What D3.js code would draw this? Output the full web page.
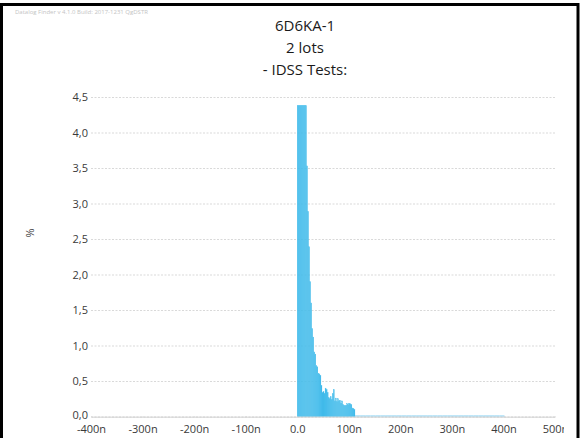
<!DOCTYPE html>
<html>
<head>
<meta charset="utf-8">
<script src="https://cdn.jsdelivr.net/npm/d3@7"></script>
<style>
  body { margin: 0; background: #fff; }
  text { font-family: "Open Sans", sans-serif; }
</style>
</head>
<body>
<div id="viz"></div>
<script>
var svg_width = 582;
var svg_height = 438;

var titleLines = ["6D6KA-1", "2 lots", "- IDSS Tests:"];
var xTicks = [-400, -300, -200, -100, 0, 100, 200, 300, 400, 500];
var xTickLabels = ["-400n", "-300n", "-200n", "-100n", "0.0", "100n", "200n", "300n", "400n", "500n"];
var yTicks = [0, 0.5, 1, 1.5, 2, 2.5, 3, 3.5, 4, 4.5];

// histogram bins, 2n wide, starting at 0n (values in %)
var binWidth = 2;
var binPct = [4.38, 4.38, 4.38, 4.38, 4.38, 4.38, 4.38, 4.38, 4.38, 3.53,
              2.89, 2.39, 1.90, 1.60, 1.24, 1.12, 0.91, 0.88, 0.72, 0.70,
              0.61, 0.60, 0.58, 0.44, 0.34, 0.35, 0.33, 0.40, 0.38, 0.34,
              0.27, 0.25, 0.28, 0.24, 0.32, 0.38, 0.22, 0.26, 0.21, 0.25,
              0.22, 0.23, 0.19, 0.22, 0.17, 0.16, 0.15, 0.16, 0.18, 0.17,
              0.18, 0.18, 0.17, 0.12, 0.11, 0.10];
// sparse tail, 10n wide bins from 112n
var tailStart = 112;
var tailWidth = 10;
var tailPct = [0.015, 0.015, 0.015, 0.015, 0.015, 0.015, 0.015, 0.015, 0.015, 0.015,
               0.015, 0.015, 0.015, 0.015, 0.015, 0.015, 0.015, 0.015, 0.015, 0.015,
               0.015, 0.015, 0.015, 0.015, 0.015, 0.015, 0.015, 0.015, 0.015];

var plotLeft = 91, plotRight = 555, plotTop = 97, plotBottom = 416.5;

var svg = d3.select('#viz')
.append('svg')
.attr('width', svg_width)
.attr('height', svg_height);

var x = d3.scaleLinear().domain([-400, 500]).range([plotLeft, plotRight]);
var y = d3.scaleLinear().domain([0, 4.5]).range([plotBottom, plotTop]);

// watermark
svg.append('text')
.attr('x', 15).attr('y', 13.5)
.attr('font-size', '6px')
.attr('fill', '#c4c4c4')
.text('Datalog Finder v 4.1.0 Build: 2017-1231 QgDSTR');

// title
svg.selectAll('.title')
.data(titleLines)
.enter()
.append('text')
.attr('class', 'title')
.attr('x', 305)
.attr('y', (d, i) => 31 + i * 22)
.attr('text-anchor', 'middle')
.attr('font-size', '15px')
.attr('fill', '#1a1a1a')
.text(d => d);

// grid + y labels
var yAxis = svg.append('g')
.attr('transform', 'translate(' + plotLeft + ',0)')
.call(d3.axisLeft(y).tickValues(yTicks).tickSize(-(plotRight - plotLeft)).tickPadding(3)
  .tickFormat(d => d3.format('.1f')(d).replace('.', ',')));
yAxis.select('.domain').remove();
yAxis.selectAll('line')
.attr('stroke', '#d9d9d9')
.attr('stroke-dasharray', '2,1.5');
yAxis.selectAll('text')
.attr('font-size', '11px')
.attr('fill', '#3a3a3a')
.attr('font-family', '"Open Sans", sans-serif');
yAxis.selectAll('.tick text').filter(d => d === 0).attr('dy', '0.2em');

svg.append('text')
.attr('transform', 'translate(34,233) rotate(-90)')
.attr('text-anchor', 'middle')
.attr('font-size', '11px')
.attr('fill', '#3a3a3a')
.text('%');

// bars
svg.selectAll('rect.bin')
.data(binPct)
.enter()
.append('rect')
.attr('class', 'bin')
.attr('x', (d, i) => x(i * binWidth))
.attr('width', x(binWidth) - x(0))
.attr('y', d => y(d))
.attr('height', d => plotBottom - y(d))
.attr('fill', '#33b5e8')
.attr('stroke', '#5ec6ef')
.attr('stroke-width', 0.3);

svg.selectAll('rect.tail')
.data(tailPct)
.enter()
.append('rect')
.attr('class', 'tail')
.attr('x', (d, i) => x(tailStart + i * tailWidth))
.attr('width', x(tailWidth) - x(0))
.attr('y', d => y(d))
.attr('height', d => plotBottom - y(d))
.attr('fill', '#8fd3f2');

// x axis
svg.append('clipPath').attr('id', 'clip')
.append('rect').attr('x', 0).attr('y', 0).attr('width', 564).attr('height', svg_height);

var xAxis = svg.append('g')
.attr('transform', 'translate(0,' + plotBottom + ')')
.attr('clip-path', 'url(#clip)')
.call(d3.axisBottom(x).tickValues(xTicks).tickSizeInner(-3).tickSizeOuter(0).tickPadding(9)
  .tickFormat((d, i) => xTickLabels[i]));
xAxis.select('.domain').attr('stroke', '#c4c4c4');
xAxis.selectAll('line').attr('stroke', '#c4c4c4');
xAxis.selectAll('text')
.attr('font-size', '11px')
.attr('fill', '#3a3a3a')
.attr('font-family', '"Open Sans", sans-serif');

// frame
svg.append('rect')
.attr('x', 1.5).attr('y', 4.5)
.attr('width', 576.5).attr('height', 445)
.attr('fill', 'none')
.attr('stroke', '#000')
.attr('stroke-width', 3);
</script>
</body>
</html>
